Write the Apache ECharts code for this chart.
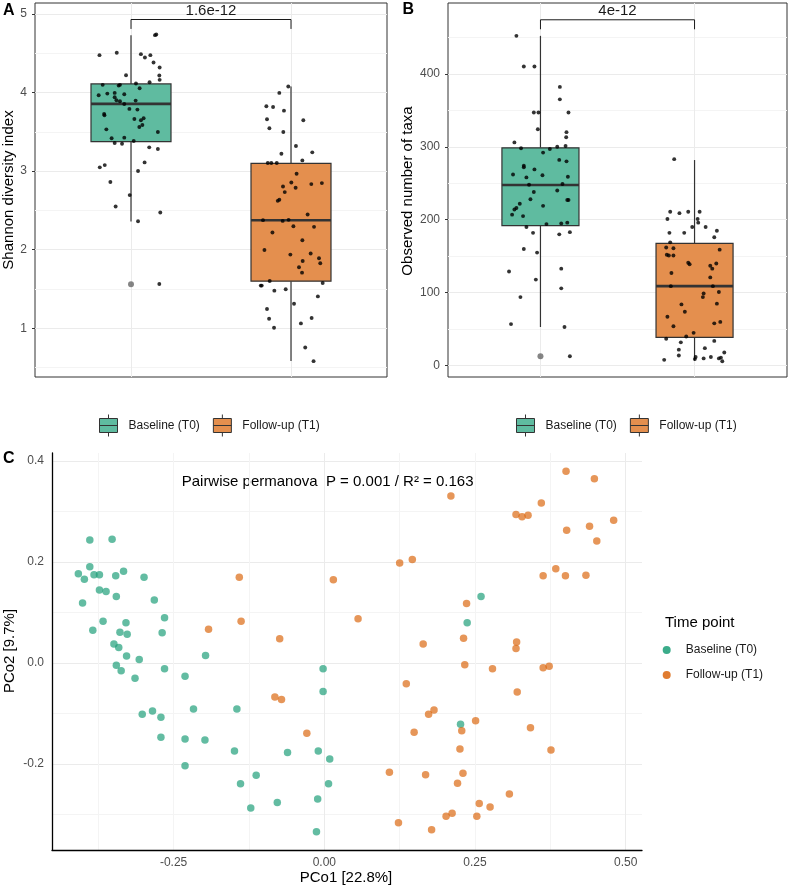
<!DOCTYPE html>
<html>
<head>
<meta charset="utf-8">
<script src="https://cdn.jsdelivr.net/npm/echarts@6/dist/echarts.min.js"></script>
<style>
  html, body { margin: 0; padding: 0; background: #fff; }
  #chart { width: 789px; height: 888px; }
</style>
</head>
<body>
<div id="chart"></div>
<script>
// ---- data ----
const groups = ['Baseline (T0)', 'Follow-up (T1)'];

// box stats: [x, lower whisker, Q1, median, Q3, upper whisker]
const shannonBoxT0 = [1, 2.36, 3.375, 3.856, 4.11, 4.73];
const shannonBoxT1 = [2, 0.583, 1.60, 2.375, 3.10, 4.077];
const observedBoxT0 = [1, 53, 192, 247.5, 298.6, 452];
const observedBoxT1 = [2, 7, 38.8, 109, 167.5, 281.8];
const shannonOutliers = [[1, 1.56]];
const observedOutliers = [[1, 13]];

// jittered samples [x, value]
const shannonT0 = [[0.803,4.476],[0.911,4.506],[1.062,4.489],[1.087,4.446],[1.121,4.476],[1.141,4.383],[1.179,4.319],[1.150,4.731],[1.158,4.740],[0.969,4.221],[1.177,4.217],[1.179,4.162],[1.116,4.132],[1.031,4.115],[0.923,4.089],[0.931,4.098],[0.823,4.098],[1.054,4.055],[0.798,3.966],[0.852,3.987],[0.898,3.996],[0.898,3.940],[0.958,3.979],[0.909,3.902],[0.931,3.889],[1.029,3.898],[0.958,3.855],[0.832,3.728],[0.834,3.711],[0.990,3.792],[1.040,3.783],[1.021,3.664],[1.062,3.647],[1.079,3.673],[1.071,3.588],[0.846,3.532],[1.052,3.562],[1.168,3.498],[0.879,3.418],[0.958,3.426],[0.898,3.358],[0.944,3.349],[1.017,3.383],[1.114,3.303],[1.168,3.281],[1.085,3.111],[0.805,3.048],[0.836,3.077],[1.044,3.001],[0.871,2.861],[0.992,2.695],[0.904,2.550],[1.044,2.363],[1.183,2.474],[1.177,1.564]];
const shannonT1 = [[1.983,4.077],[1.927,3.996],[1.846,3.826],[1.888,3.817],[1.956,3.770],[1.850,3.660],[1.865,3.545],[2.077,3.647],[1.952,3.498],[2.031,3.320],[1.940,3.222],[2.071,3.137],[2.133,3.239],[1.855,3.103],[1.877,3.103],[1.911,3.103],[2.035,2.967],[2.002,2.856],[2.029,2.788],[1.950,2.805],[1.961,2.733],[1.927,2.635],[1.917,2.622],[2.127,2.835],[2.193,2.848],[2.104,2.448],[1.825,2.376],[1.948,2.367],[1.985,2.380],[2.015,2.299],[2.144,2.291],[1.884,2.219],[2.071,2.121],[1.834,1.997],[1.996,1.938],[2.123,1.951],[2.175,1.891],[2.073,1.857],[2.050,1.776],[2.069,1.708],[2.183,1.827],[1.867,1.602],[1.811,1.543],[1.817,1.543],[1.967,1.496],[1.896,1.479],[2.198,1.577],[2.019,1.313],[2.168,1.406],[1.850,1.245],[1.863,1.122],[2.129,1.130],[2.062,1.062],[1.894,1.007],[2.089,0.756],[2.141,0.582]];
const observedT0 = [[0.844,452],[0.892,410],[0.961,410],[1.126,382],[1.126,365],[0.957,347],[0.987,347],[1.182,347],[0.983,324],[1.169,320],[1.167,313],[0.831,306],[0.874,298],[1.017,292],[1.061,297],[1.109,300],[1.163,301],[0.822,262],[0.892,274],[0.892,272],[0.909,258],[0.961,269],[1.013,261],[1.122,282],[1.169,280],[1.178,259],[1.143,249],[0.926,248],[0.957,238],[1.109,240],[1.182,227],[1.174,227],[0.935,228],[0.866,222],[0.844,216],[0.831,214],[0.816,207],[0.887,205],[1.017,219],[1.039,194],[1.135,195],[1.174,196],[0.909,190],[0.952,182],[1.191,183],[1.122,180],[0.892,160],[0.978,155],[0.796,129],[1.135,133],[0.970,118],[1.135,106],[0.870,94],[0.809,57],[1.156,53],[1.191,13]];
const observedT1 = [[1.868,283],[1.842,211],[1.902,209],[1.959,211],[2.033,211],[1.824,201],[2.020,201],[1.837,182],[1.933,182],[1.985,190],[2.024,196],[2.072,190],[2.145,185],[2.128,176],[1.842,169],[1.816,162],[1.863,161],[1.820,152],[1.833,151],[1.863,151],[2.163,159],[1.959,141],[1.968,139],[2.102,137],[2.115,133],[2.141,140],[1.850,127],[2.102,121],[1.846,109],[2.119,109],[2.158,101],[2.059,99],[2.054,94],[1.915,84],[1.937,74],[2.145,85],[1.824,67],[1.863,54],[2.128,58],[2.167,60],[1.946,40],[1.994,45],[1.816,37],[1.911,32],[2.128,34],[1.898,22],[1.898,14],[2.067,24],[1.803,8],[2.007,12],[2.059,10],[2.106,12],[2.158,10],[2.171,11],[2.193,18],[2.180,6],[2.002,9]];

// PCoA scores [PCo1, PCo2]
const pcoaT0 = [[-0.389,0.244],[-0.352,0.245],[-0.389,0.191],[-0.408,0.177],[-0.398,0.166],[-0.382,0.175],[-0.373,0.175],[-0.346,0.173],[-0.333,0.182],[-0.299,0.170],[-0.373,0.145],[-0.362,0.142],[-0.345,0.132],[-0.282,0.125],[-0.401,0.119],[-0.265,0.090],[-0.367,0.083],[-0.329,0.080],[-0.384,0.065],[-0.339,0.061],[-0.327,0.057],[-0.269,0.060],[-0.349,0.038],[-0.341,0.031],[-0.328,0.014],[-0.197,0.015],[-0.307,0.007],[-0.345,-0.004],[-0.337,-0.015],[-0.265,-0.011],[-0.314,-0.030],[-0.231,-0.026],[-0.002,-0.011],[-0.002,-0.056],[-0.302,-0.101],[-0.285,-0.095],[-0.271,-0.107],[-0.217,-0.091],[-0.145,-0.091],[-0.271,-0.147],[-0.231,-0.150],[-0.198,-0.152],[-0.149,-0.174],[-0.061,-0.177],[-0.010,-0.174],[0.009,-0.190],[-0.231,-0.203],[-0.113,-0.222],[-0.139,-0.239],[0.007,-0.239],[-0.122,-0.287],[-0.078,-0.276],[-0.011,-0.269],[-0.013,-0.334],[0.260,0.132],[0.237,0.080],[0.226,-0.121]];
const pcoaT1 = [[-0.082,-0.067],[-0.071,-0.072],[-0.029,-0.139],[0.108,-0.216],[0.123,-0.316],[-0.141,0.170],[0.015,0.165],[-0.192,0.067],[-0.138,0.083],[-0.074,0.048],[0.401,0.380],[0.448,0.365],[0.210,0.331],[0.360,0.317],[0.318,0.294],[0.328,0.290],[0.338,0.293],[0.480,0.283],[0.402,0.263],[0.440,0.271],[0.452,0.242],[0.125,0.198],[0.146,0.205],[0.384,0.187],[0.363,0.173],[0.400,0.173],[0.434,0.174],[0.236,0.118],[0.056,0.088],[0.231,0.049],[0.319,0.042],[0.318,0.029],[0.164,0.038],[0.233,-0.003],[0.279,-0.011],[0.363,-0.009],[0.373,-0.006],[0.136,-0.041],[0.320,-0.057],[0.173,-0.101],[0.182,-0.093],[0.251,-0.114],[0.228,-0.134],[0.149,-0.137],[0.342,-0.128],[0.225,-0.170],[0.376,-0.172],[0.168,-0.221],[0.230,-0.218],[0.221,-0.238],[0.307,-0.259],[0.257,-0.278],[0.275,-0.285],[0.202,-0.303],[0.212,-0.297],[0.253,-0.303],[0.178,-0.330]];

// significance brackets: [x from, x to, line level, tick end]
const shannonBracket = [1, 2, 4.93, 4.81];
const observedBracket = [1, 2, 474, 461];
const shannonP = '1.6e-12';
const observedP = '4e-12';

// tick labels
const shannonTicks = [1, 2, 3, 4, 5];
const observedTicks = [0, 100, 200, 300, 400];
const pco1Ticks = [-0.25, 0, 0.25, 0.5];
const pco2Ticks = [-0.2, 0, 0.2, 0.4];

// ---- styling ----
const FONT = '"Liberation Sans", Arial, sans-serif';
const boxFill = ['#5FBBA0', '#E48F4E'];
const dotFill = ['rgba(27,158,119,0.86)', 'rgba(217,95,2,0.82)'];
const grid1 = '#EBEBEB', grid2 = '#F4F4F4';
const boxHalf = 0.25;

function renderBox(params, api) {
  const x = api.value(0);
  const lo = api.coord([x, api.value(1)]);
  const q1 = api.coord([x, api.value(2)]);
  const md = api.coord([x, api.value(3)]);
  const q3 = api.coord([x, api.value(4)]);
  const hi = api.coord([x, api.value(5)]);
  const l = api.coord([x - boxHalf, api.value(3)])[0];
  const r = api.coord([x + boxHalf, api.value(3)])[0];
  const ln = { stroke: '#333', lineWidth: 1.2 };
  return {
    type: 'group',
    children: [
      { type: 'line', shape: { x1: lo[0], y1: lo[1], x2: q1[0], y2: q1[1] }, style: ln },
      { type: 'line', shape: { x1: q3[0], y1: q3[1], x2: hi[0], y2: hi[1] }, style: ln },
      { type: 'rect', shape: { x: l, y: q3[1], width: r - l, height: q1[1] - q3[1] },
        style: { fill: api.visual('color'), stroke: '#333', lineWidth: 1.2 } },
      { type: 'line', shape: { x1: l, y1: md[1], x2: r, y2: md[1] }, style: { stroke: '#333', lineWidth: 2.6 } }
    ]
  };
}

function bracketRenderer(label) {
  return function (params, api) {
    const a = api.coord([api.value(0), api.value(3)]);
    const b = api.coord([api.value(0), api.value(2)]);
    const c = api.coord([api.value(1), api.value(2)]);
    const d = api.coord([api.value(1), api.value(3)]);
    return {
      type: 'group',
      children: [
        { type: 'polyline', shape: { points: [a, b, c, d] }, style: { stroke: '#1a1a1a', lineWidth: 1, fill: null } },
        { type: 'text', x: (b[0] + c[0]) / 2, y: b[1] - 1,
          style: { text: label, fill: '#1a1a1a', fontSize: 15, fontFamily: FONT,
                   align: 'center', verticalAlign: 'bottom', textAlign: 'center', textVerticalAlign: 'bottom' } }
      ]
    };
  };
}

function catAxis(gi) {
  return {
    type: 'value', gridIndex: gi, min: 0.4, max: 2.6,
    axisLine: { show: false },
    axisTick: { show: false, customValues: [1, 2] },
    axisLabel: { show: false, customValues: [1, 2] },
    splitLine: { show: true, lineStyle: { color: grid1, width: 1 } },
    minorSplitLine: { show: false }
  };
}

function valAxis(gi, min, max, ticks, fmt) {
  return {
    type: 'value', gridIndex: gi, min: min, max: max, splitNumber: 5,
    axisLine: { show: false },
    axisTick: { show: true, length: 3, customValues: ticks, lineStyle: { color: '#333' } },
    axisLabel: { customValues: ticks, margin: 8, color: '#4D4D4D', fontSize: 12, fontFamily: FONT, formatter: fmt },
    splitLine: { show: true, lineStyle: { color: grid1, width: 1 } },
    minorTick: { show: false, splitNumber: 2 },
    minorSplitLine: { show: true, lineStyle: { color: grid2, width: 1 } }
  };
}

const boxIcon = 'path://M9,0L9,4M0,4L18,4L18,18L0,18ZM0,11L18,11M9,18L9,22';
const boxLegendData = groups.map((g, i) => ({
  name: g, icon: boxIcon, itemStyle: { color: boxFill[i], borderColor: '#333', borderWidth: 1 }
}));
const dotLegendData = groups.map((g, i) => ({
  name: g, icon: 'circle', itemStyle: { color: dotFill[i], borderWidth: 0 }
}));
const legendText = { fontSize: 12, fontFamily: FONT, color: '#1a1a1a', padding: [0, 0, 0, 6] };

const chart = echarts.init(document.getElementById('chart'));
chart.setOption({
  animation: false,
  backgroundColor: '#fff',
  grid: [
    { left: 35, top: 3, width: 352, height: 374, show: true, borderColor: '#333', borderWidth: 1 },
    { left: 448, top: 3, width: 339, height: 374, show: true, borderColor: '#333', borderWidth: 1 },
    { left: 52, top: 453, width: 590, height: 397, show: false }
  ],
  xAxis: [
    catAxis(0),
    catAxis(1),
    {
      type: 'value', gridIndex: 2, min: -0.4517, max: 0.527, splitNumber: 2,
      axisLine: { show: true, onZero: false, lineStyle: { color: '#000', width: 1.3 } },
      axisTick: { show: false, customValues: pco1Ticks },
      axisLabel: { customValues: pco1Ticks, margin: 7, color: '#4D4D4D', fontSize: 12, fontFamily: FONT,
                   formatter: v => v.toFixed(2) },
      splitLine: { show: true, lineStyle: { color: grid1, width: 1 } },
      minorTick: { show: false, splitNumber: 4 },
      minorSplitLine: { show: true, lineStyle: { color: grid2, width: 1 } }
    }
  ],
  yAxis: [
    valAxis(0, 0.38, 5.14, shannonTicks, v => String(v)),
    valAxis(1, -15.5, 497, observedTicks, v => String(v)),
    Object.assign(valAxis(2, -0.37, 0.416, pco2Ticks, v => v.toFixed(1)), {
      axisLine: { show: true, onZero: false, lineStyle: { color: '#000', width: 1.3 } },
      axisTick: { show: false, customValues: pco2Ticks }
    })
  ],
  legend: [
    { left: 99, top: 414, padding: 0, itemWidth: 18, itemHeight: 22, itemGap: 13, selectedMode: false,
      data: boxLegendData, textStyle: legendText },
    { left: 516, top: 414, padding: 0, itemWidth: 18, itemHeight: 22, itemGap: 13, selectedMode: false,
      data: boxLegendData, textStyle: legendText },
    { left: 662.7, top: 637.5, orient: 'vertical', padding: 0, itemWidth: 28, itemHeight: 8, itemGap: 0,
      selectedMode: false, data: dotLegendData,
      textStyle: { fontSize: 12, fontFamily: FONT, color: '#1a1a1a', lineHeight: 25 } }
  ],
  series: [
    // panel A
    { type: 'custom', name: groups[0], xAxisIndex: 0, yAxisIndex: 0, renderItem: renderBox,
      itemStyle: { color: boxFill[0] }, encode: { x: 0, y: [1, 2, 3, 4, 5] }, data: [shannonBoxT0], z: 2 },
    { type: 'custom', name: groups[1], xAxisIndex: 0, yAxisIndex: 0, renderItem: renderBox,
      itemStyle: { color: boxFill[1] }, encode: { x: 0, y: [1, 2, 3, 4, 5] }, data: [shannonBoxT1], z: 2 },
    { type: 'scatter', name: 'shannon outlier', xAxisIndex: 0, yAxisIndex: 0, symbolSize: 6,
      itemStyle: { color: '#666' }, data: shannonOutliers, z: 3 },
    { type: 'scatter', name: 'shannon T0', xAxisIndex: 0, yAxisIndex: 0, symbolSize: 3.9,
      itemStyle: { color: '#000' }, data: shannonT0, z: 4 },
    { type: 'scatter', name: 'shannon T1', xAxisIndex: 0, yAxisIndex: 0, symbolSize: 3.9,
      itemStyle: { color: '#000' }, data: shannonT1, z: 4 },
    { type: 'custom', name: 'shannon p', xAxisIndex: 0, yAxisIndex: 0, renderItem: bracketRenderer(shannonP),
      encode: { x: [0, 1], y: [2, 3] }, data: [shannonBracket], z: 5 },
    // panel B
    { type: 'custom', name: groups[0], xAxisIndex: 1, yAxisIndex: 1, renderItem: renderBox,
      itemStyle: { color: boxFill[0] }, encode: { x: 0, y: [1, 2, 3, 4, 5] }, data: [observedBoxT0], z: 2 },
    { type: 'custom', name: groups[1], xAxisIndex: 1, yAxisIndex: 1, renderItem: renderBox,
      itemStyle: { color: boxFill[1] }, encode: { x: 0, y: [1, 2, 3, 4, 5] }, data: [observedBoxT1], z: 2 },
    { type: 'scatter', name: 'observed outlier', xAxisIndex: 1, yAxisIndex: 1, symbolSize: 6,
      itemStyle: { color: '#666' }, data: observedOutliers, z: 3 },
    { type: 'scatter', name: 'observed T0', xAxisIndex: 1, yAxisIndex: 1, symbolSize: 3.9,
      itemStyle: { color: '#000' }, data: observedT0, z: 4 },
    { type: 'scatter', name: 'observed T1', xAxisIndex: 1, yAxisIndex: 1, symbolSize: 3.9,
      itemStyle: { color: '#000' }, data: observedT1, z: 4 },
    { type: 'custom', name: 'observed p', xAxisIndex: 1, yAxisIndex: 1, renderItem: bracketRenderer(observedP),
      encode: { x: [0, 1], y: [2, 3] }, data: [observedBracket], z: 5 },
    // panel C
    { type: 'scatter', name: groups[0], xAxisIndex: 2, yAxisIndex: 2, symbolSize: 7.5,
      itemStyle: { color: dotFill[0] }, data: pcoaT0, z: 3 },
    { type: 'scatter', name: groups[1], xAxisIndex: 2, yAxisIndex: 2, symbolSize: 7.5,
      itemStyle: { color: dotFill[1] }, data: pcoaT1, z: 3 }
  ],
  graphic: [
    { type: 'text', x: 3, y: 11, style: { text: 'A', fontSize: 16, fontWeight: 'bold', fontFamily: FONT, fill: '#000',
      align: 'left', verticalAlign: 'middle', textAlign: 'left', textVerticalAlign: 'middle' } },
    { type: 'text', x: 402.5, y: 10, style: { text: 'B', fontSize: 16, fontWeight: 'bold', fontFamily: FONT, fill: '#000',
      align: 'left', verticalAlign: 'middle', textAlign: 'left', textVerticalAlign: 'middle' } },
    { type: 'text', x: 3, y: 459, style: { text: 'C', fontSize: 16, fontWeight: 'bold', fontFamily: FONT, fill: '#000',
      align: 'left', verticalAlign: 'middle', textAlign: 'left', textVerticalAlign: 'middle' } },
    { type: 'text', x: 9, y: 190, rotation: Math.PI / 2, style: { text: 'Shannon diversity index', fontSize: 15,
      fontFamily: FONT, fill: '#000', align: 'center', verticalAlign: 'middle', textAlign: 'center', textVerticalAlign: 'middle' } },
    { type: 'text', x: 408, y: 191, rotation: Math.PI / 2, style: { text: 'Observed number of taxa', fontSize: 15,
      fontFamily: FONT, fill: '#000', align: 'center', verticalAlign: 'middle', textAlign: 'center', textVerticalAlign: 'middle' } },
    { type: 'text', x: 10, y: 651, rotation: Math.PI / 2, style: { text: 'PCo2 [9.7%]', fontSize: 15,
      fontFamily: FONT, fill: '#000', align: 'center', verticalAlign: 'middle', textAlign: 'center', textVerticalAlign: 'middle' } },
    { type: 'text', x: 346, y: 878, style: { text: 'PCo1 [22.8%]', fontSize: 15,
      fontFamily: FONT, fill: '#000', align: 'center', verticalAlign: 'middle', textAlign: 'center', textVerticalAlign: 'middle' } },
    { type: 'text', x: 181.7, y: 482, style: { text: 'Pairwise permanova  P = 0.001 / R² = 0.163', fontSize: 15,
      fontFamily: FONT, fill: '#000', align: 'left', verticalAlign: 'middle', textAlign: 'left', textVerticalAlign: 'middle' } },
    { type: 'text', x: 665, y: 623, style: { text: 'Time point', fontSize: 15,
      fontFamily: FONT, fill: '#000', align: 'left', verticalAlign: 'middle', textAlign: 'left', textVerticalAlign: 'middle' } }
  ]
});
</script>
</body>
</html>
